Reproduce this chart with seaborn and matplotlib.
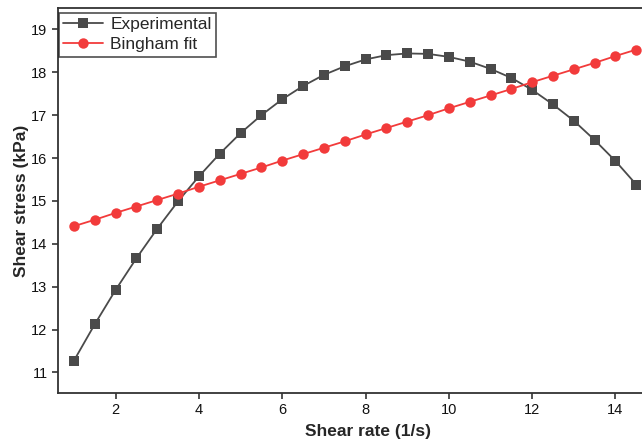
import numpy as np
import pandas as pd
import matplotlib
matplotlib.use("Agg")
import matplotlib.pyplot as plt
import seaborn as sns

# Shear rate steps (1/s)
shear_rate = [1.0, 1.5, 2.0, 2.5, 3.0, 3.5, 4.0, 4.5, 5.0, 5.5, 6.0, 6.5, 7.0, 7.5,
              8.0, 8.5, 9.0, 9.5, 10.0, 10.5, 11.0, 11.5, 12.0, 12.5, 13.0, 13.5, 14.0, 14.5]

# Measured shear stress (kPa)
experimental = [11.27, 12.12, 12.92, 13.66, 14.35, 14.99, 15.57, 16.10, 16.58, 17.00,
                17.37, 17.68, 17.94, 18.14, 18.30, 18.40, 18.44, 18.43, 18.36, 18.25,
                18.08, 17.87, 17.59, 17.25, 16.87, 16.42, 15.93, 15.38]

# Bingham model prediction (kPa)
bingham_fit = [14.41, 14.56, 14.72, 14.87, 15.02, 15.17, 15.33, 15.48, 15.63, 15.78,
               15.94, 16.09, 16.24, 16.39, 16.55, 16.70, 16.85, 17.00, 17.16, 17.31,
               17.46, 17.61, 17.77, 17.92, 18.07, 18.22, 18.38, 18.53]

x_ticks = [2, 4, 6, 8, 10, 12, 14]
y_ticks = [11, 12, 13, 14, 15, 16, 17, 18, 19]

sns.set_theme(style="ticks")
plt.rcParams["font.family"] = ["Liberation Sans", "DejaVu Sans"]

df = pd.DataFrame({
    "rate": shear_rate * 2,
    "stress": experimental + bingham_fit,
    "series": ["Experimental"] * len(shear_rate) + ["Bingham fit"] * len(shear_rate),
})

fig = plt.figure(figsize=(6.42, 4.40), dpi=100)
ax = fig.add_axes([58 / 642, 47 / 440, 620 / 642, 385 / 440])

palette = {"Experimental": "#4a4a4a", "Bingham fit": "#f23b3b"}
markers = {"Experimental": "s", "Bingham fit": "o"}
sns.lineplot(data=df, x="rate", y="stress", hue="series", style="series",
             palette=palette, markers=markers, dashes=False, markersize=7.5,
             markeredgewidth=0, linewidth=1.3, ax=ax)

ax.set_xlim(0.62, 15.5)
ax.set_ylim(10.52, 19.5)
ax.set_xticks(x_ticks)
ax.set_yticks(y_ticks)
ax.tick_params(axis="both", direction="out", length=4, width=1.1, labelsize=10.5, colors="#222222")
ax.tick_params(axis="both", labelcolor="#111111")
for s in ax.spines.values():
    s.set_linewidth(1.3)
    s.set_color("#333333")

ax.set_xlabel("Shear rate (1/s)", fontsize=12.5, fontweight="bold", labelpad=5)
ax.set_ylabel("Shear stress (kPa)", fontsize=12.5, fontweight="bold", labelpad=2)

leg = ax.legend(loc="upper left", bbox_to_anchor=(0.0015, 0.988), fontsize=12.5,
                frameon=True, fancybox=False, handlelength=2.3, handletextpad=0.4,
                borderpad=0.25, labelspacing=0.3, borderaxespad=0.0)
leg.get_frame().set_edgecolor("#222222")
leg.get_frame().set_linewidth(1.2)

fig.savefig("out.png", dpi=100)
